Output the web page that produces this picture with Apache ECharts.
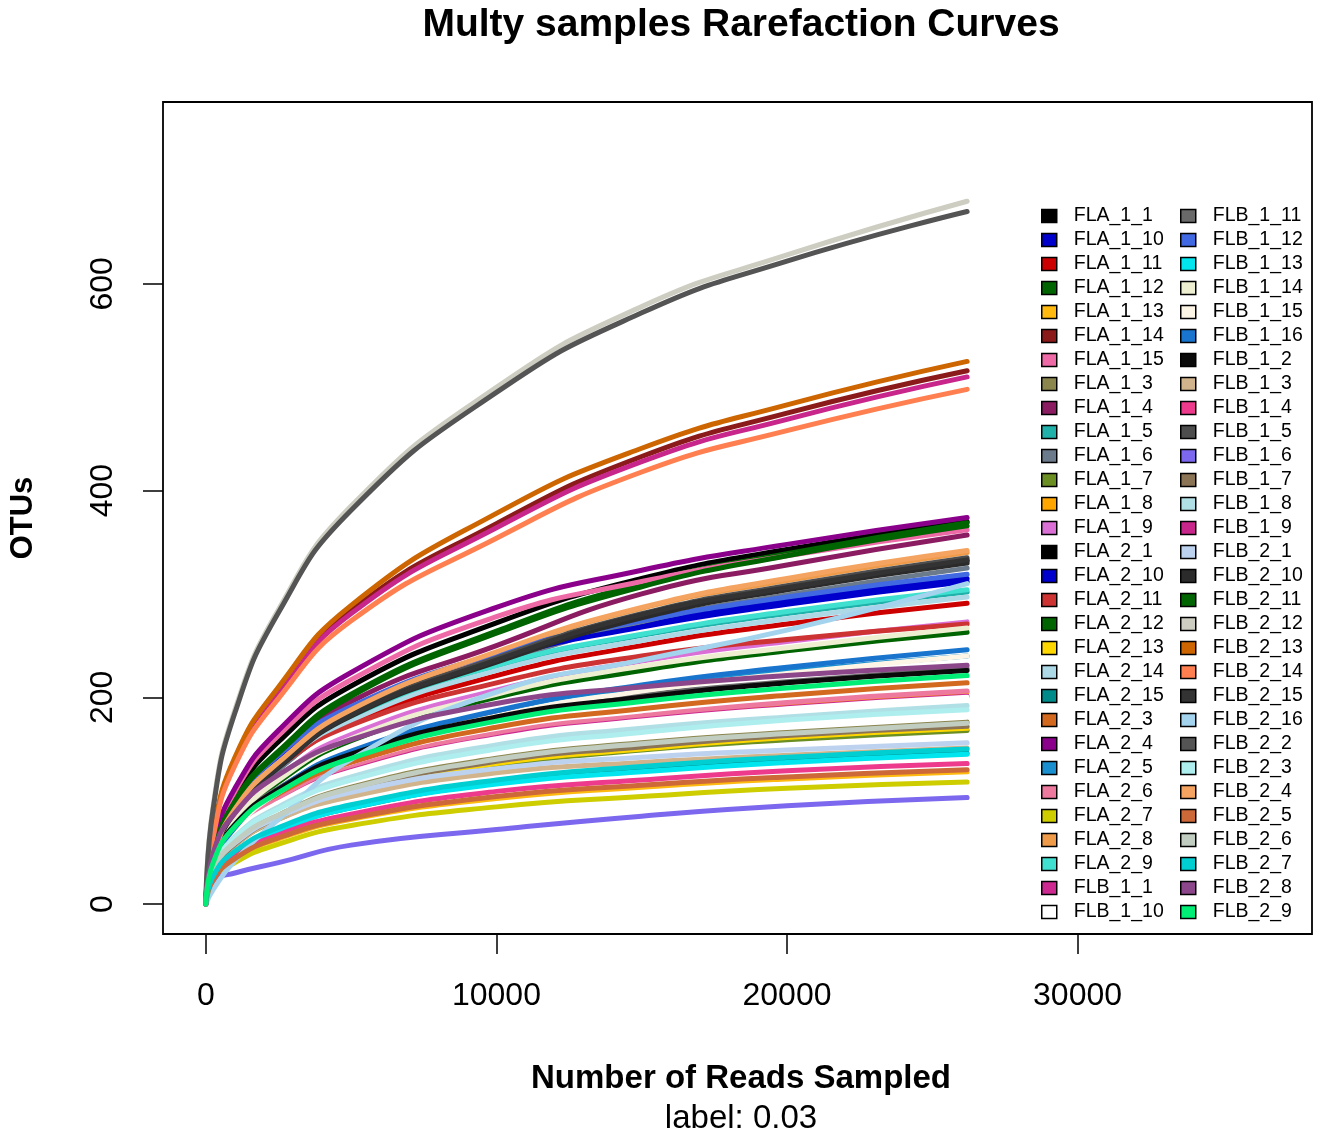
<!DOCTYPE html>
<html>
<head>
<meta charset="utf-8">
<title>Multy samples Rarefaction Curves</title>
<script src="https://cdn.jsdelivr.net/npm/echarts@6/dist/echarts.min.js"></script>
<style>
  html, body { margin: 0; padding: 0; background: #fff; }
  #chart { width: 1320px; height: 1134px; }
</style>
</head>
<body>
<div id="chart"></div>
<script>
const readDepths = [0, 250, 1000, 2500, 5000, 10000, 15000, 20000, 26200];

const sampleNames = [
  'FLA_1_1', 'FLA_1_10', 'FLA_1_11', 'FLA_1_12', 'FLA_1_13', 'FLA_1_14', 'FLA_1_15', 'FLA_1_3',
  'FLA_1_4', 'FLA_1_5', 'FLA_1_6', 'FLA_1_7', 'FLA_1_8', 'FLA_1_9',
  'FLA_2_1', 'FLA_2_10', 'FLA_2_11', 'FLA_2_12', 'FLA_2_13', 'FLA_2_14', 'FLA_2_15', 'FLA_2_3',
  'FLA_2_4', 'FLA_2_5', 'FLA_2_6', 'FLA_2_7', 'FLA_2_8', 'FLA_2_9',
  'FLB_1_1', 'FLB_1_10',
  'FLB_1_11', 'FLB_1_12', 'FLB_1_13', 'FLB_1_14', 'FLB_1_15', 'FLB_1_16', 'FLB_1_2', 'FLB_1_3',
  'FLB_1_4', 'FLB_1_5', 'FLB_1_6', 'FLB_1_7', 'FLB_1_8', 'FLB_1_9',
  'FLB_2_1', 'FLB_2_10', 'FLB_2_11', 'FLB_2_12', 'FLB_2_13', 'FLB_2_14', 'FLB_2_15', 'FLB_2_16',
  'FLB_2_2', 'FLB_2_3', 'FLB_2_4', 'FLB_2_5', 'FLB_2_6', 'FLB_2_7', 'FLB_2_8', 'FLB_2_9'
];

const sampleColors = [
  '#000000', '#0000CD', '#CD0000', '#006400', '#FFB90F', '#8B1A1A', '#EE6AA7', '#8B864E',
  '#8B1C62', '#20B2AA', '#6C7B8B', '#6B8E23', '#FFA500', '#DA70D6',
  '#000000', '#0000CD', '#CD3333', '#006400', '#FFD700', '#ADD8E6', '#008B8B', '#D2691E',
  '#8B008B', '#1A8FD0', '#EE799F', '#CDCD00', '#EE9A49', '#40E0D0',
  '#CD2990', '#FFFFFF',
  '#696969', '#4169E1', '#00E5EE', '#EEEED1', '#FDF5E6', '#1874CD', '#0A0A0A', '#D2B48C',
  '#EE3A8C', '#4D4D4D', '#7B68EE', '#8B7355', '#B0E0E6', '#C8268A',
  '#BCD2EE', '#2B2B2B', '#006400', '#CDCDC1', '#CD6600', '#FF7F50', '#333333', '#A4D3EE',
  '#545454', '#AEEEEE', '#F4A460', '#CD6839', '#C1CDC1', '#00CED1', '#8B4789', '#00EE76'
];

// OTUs observed at each read depth, one row per sample (same order as sampleNames)
const otuValues = [
  [0, 52, 104, 157, 211, 272, 315, 343, 370],   // FLA_1_1
  [0, 47, 95, 142, 189, 239, 271, 293, 315],    // FLA_1_10
  [0, 44, 87, 131, 175, 221, 250, 271, 291],    // FLA_1_11
  [0, 48, 100, 148, 203, 264, 310, 339, 369],   // FLA_1_12
  [0, 23, 44, 63, 82, 102, 113, 121, 128],      // FLA_1_13
  [0, 67, 139, 206, 284, 368, 433, 475, 516],   // FLA_1_14
  [0, 54, 109, 163, 217, 278, 312, 337, 362],   // FLA_1_15
  [0, 32, 60, 86, 113, 141, 156, 166, 176],     // FLA_1_3
  [0, 46, 96, 143, 196, 250, 300, 328, 357],    // FLA_1_4
  [0, 45, 91, 136, 181, 230, 260, 281, 302],    // FLA_1_5
  [0, 42, 88, 130, 179, 232, 273, 299, 325],    // FLA_1_6
  [0, 30, 57, 82, 108, 134, 149, 159, 168],     // FLA_1_7
  [0, 37, 70, 100, 131, 164, 181, 194, 205],    // FLA_1_8
  [0, 41, 82, 123, 164, 207, 235, 254, 273],    // FLA_1_9
  [0, 43, 90, 133, 183, 236, 279, 305, 332],    // FLA_2_1
  [0, 47, 94, 140, 187, 237, 268, 290, 312],    // FLA_2_10
  [0, 49, 92, 133, 173, 214, 240, 256, 271],    // FLA_2_11
  [0, 39, 79, 118, 158, 200, 226, 245, 263],    // FLA_2_12
  [0, 31, 58, 83, 109, 136, 150, 161, 170],     // FLA_2_13
  [0, 45, 89, 134, 178, 226, 255, 276, 297],    // FLA_2_14
  [0, 26, 50, 72, 93, 117, 129, 138, 146],      // FLA_2_15
  [0, 39, 73, 105, 137, 171, 189, 202, 214],    // FLA_2_3
  [0, 56, 112, 168, 224, 287, 323, 348, 374],   // FLA_2_4
  [0, 36, 72, 108, 144, 186, 210, 225, 240],    // FLA_2_5
  [0, 37, 70, 101, 132, 165, 182, 195, 206],    // FLA_2_6
  [0, 21, 40, 58, 76, 94, 104, 112, 118],       // FLA_2_7
  [0, 44, 92, 136, 187, 243, 286, 313, 340],    // FLA_2_8
  [0, 46, 91, 137, 182, 231, 261, 283, 304],    // FLA_2_9
  [0, 36, 68, 98, 129, 161, 178, 190, 201],     // FLB_1_1
  [0, 36, 68, 98, 128, 160, 177, 189, 200],     // FLB_1_10
  [0, 41, 78, 112, 146, 182, 202, 215, 228],    // FLB_1_11
  [0, 48, 96, 144, 191, 242, 274, 297, 319],    // FLB_1_12
  [0, 26, 49, 71, 93, 116, 128, 137, 145],      // FLB_1_13
  [0, 40, 80, 120, 160, 203, 230, 248, 267],    // FLB_1_14
  [0, 36, 72, 108, 144, 182, 206, 223, 240],    // FLB_1_15
  [0, 37, 74, 111, 148, 187, 212, 229, 246],    // FLB_1_16
  [0, 41, 77, 111, 145, 181, 200, 214, 226],    // FLB_1_2
  [0, 32, 57, 82, 104, 127, 137, 144, 151],     // FLB_1_3
  [0, 24, 46, 67, 87, 109, 120, 129, 136],      // FLB_1_4
  [0, 44, 90, 134, 184, 238, 281, 308, 335],    // FLB_1_5
  [0, 22, 30, 40, 57, 72, 85, 95, 103],         // FLB_1_6
  [0, 31, 58, 84, 110, 138, 152, 163, 172],     // FLB_1_7
  [0, 35, 65, 94, 123, 154, 170, 181, 192],     // FLB_1_8
  [0, 66, 138, 204, 281, 364, 428, 469, 510],   // FLB_1_9
  [0, 33, 59, 84, 108, 131, 142, 149, 156],     // FLB_2_1
  [0, 43, 89, 132, 182, 234, 277, 304, 330],    // FLB_2_10
  [0, 48, 99, 146, 201, 262, 307, 337, 366],    // FLB_2_11
  [0, 95, 188, 285, 385, 500, 578, 628, 680],   // FLB_2_12
  [0, 68, 142, 210, 289, 378, 441, 483, 525],   // FLB_2_13
  [0, 65, 134, 199, 274, 354, 418, 458, 498],   // FLB_2_14
  [0, 43, 90, 133, 183, 236, 280, 306, 333],    // FLB_2_15
  [0, 14, 42, 82, 140, 205, 236, 265, 310],     // FLB_2_16
  [0, 92, 185, 282, 381, 495, 572, 622, 670],   // FLB_2_2
  [0, 34, 64, 92, 120, 150, 166, 178, 188],     // FLB_2_3
  [0, 44, 92, 137, 188, 244, 287, 315, 342],    // FLB_2_4
  [0, 23, 44, 64, 83, 104, 115, 123, 130],      // FLB_2_5
  [0, 32, 60, 86, 112, 140, 155, 165, 175],     // FLB_2_6
  [0, 27, 51, 74, 96, 120, 133, 142, 150],      // FLB_2_7
  [0, 49, 88, 125, 159, 194, 210, 221, 231],    // FLB_2_8
  [0, 40, 75, 108, 141, 177, 196, 209, 221]     // FLB_2_9
];

const xTicks = [0, 10000, 20000, 30000];
const yTicks = [0, 200, 400, 600];

const FONT = '"Liberation Sans", Arial, sans-serif';

const chart = echarts.init(document.getElementById('chart'), null, { renderer: 'canvas' });

const series = sampleNames.map((name, i) => ({
  name: name,
  type: 'line',
  data: readDepths.map((x, j) => [x, otuValues[i][j]]),
  smooth: 0.5,
  showSymbol: false,
  symbol: 'none',
  color: sampleColors[i],
  lineStyle: { width: 5, color: sampleColors[i], cap: 'round', join: 'round' },
  emphasis: { disabled: true },
  silent: true
}));

const legendBase = {
  orient: 'vertical',
  top: 206,
  icon: 'rect',
  itemWidth: 15,
  itemHeight: 13,
  itemGap: 4,
  selectedMode: false,
  padding: 0,
  itemStyle: { borderColor: '#000', borderWidth: 1.5 },
  textStyle: { fontFamily: FONT, fontSize: 19.5, color: '#000', lineHeight: 18, padding: [0, 0, 0, 12] }
};

const option = {
  backgroundColor: '#fff',
  animation: false,
  title: [
    {
      text: 'Multy samples Rarefaction Curves',
      left: 736, top: 1, textAlign: 'center',
      textStyle: { fontFamily: FONT, fontSize: 39, fontWeight: 'bold', color: '#000' }
    },
    {
      text: 'Number of Reads Sampled',
      left: 736, top: 1057, textAlign: 'center',
      textStyle: { fontFamily: FONT, fontSize: 33, fontWeight: 'bold', color: '#000' }
    },
    {
      text: 'label: 0.03',
      left: 736, top: 1097, textAlign: 'center',
      textStyle: { fontFamily: FONT, fontSize: 33, fontWeight: 'normal', color: '#000' }
    }
  ],
  legend: [
    Object.assign({}, legendBase, { left: 1041, data: sampleNames.slice(0, 30) }),
    Object.assign({}, legendBase, { left: 1180, data: sampleNames.slice(30) })
  ],
  grid: {
    left: 160, right: 8, top: 102, bottom: 200,
    show: true, borderColor: '#000', borderWidth: 1.8, backgroundColor: 'transparent'
  },
  xAxis: {
    type: 'value',
    min: -1476, max: 38070,
    axisLine: { show: false, onZero: false },
    splitLine: { show: false },
    axisTick: { show: true, length: 20, inside: false, customValues: xTicks, lineStyle: { color: '#000', width: 1.5 } },
    axisLabel: {
      show: true, customValues: xTicks, margin: 46, fontFamily: FONT, fontSize: 32, color: '#000',
      formatter: (v) => String(v)
    }
  },
  yAxis: {
    type: 'value',
    min: -29, max: 776,
    name: 'OTUs',
    nameLocation: 'middle',
    nameRotate: 90,
    nameGap: 124,
    nameTextStyle: { fontFamily: FONT, fontSize: 31, fontWeight: 'bold', color: '#000' },
    axisLine: { show: false, onZero: false },
    splitLine: { show: false },
    axisTick: { show: true, length: 20, inside: false, customValues: yTicks, lineStyle: { color: '#000', width: 1.5 } },
    axisLabel: {
      show: true, customValues: yTicks, rotate: 90, margin: 44, fontFamily: FONT, fontSize: 32, color: '#000',
      formatter: (v) => String(v)
    }
  },
  series: series
};

chart.setOption(option);
</script>
</body>
</html>
